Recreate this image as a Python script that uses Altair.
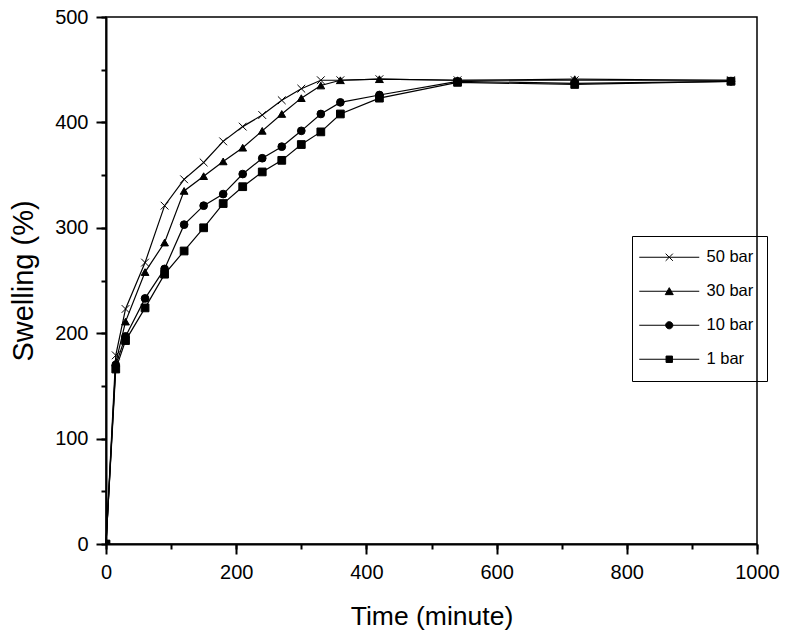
import altair as alt
import pandas as pd

times = [0, 15, 30, 60, 90, 120, 150, 180, 210, 240, 270, 300, 330, 360, 420, 540, 720, 960]
series_names = ["50 bar", "30 bar", "10 bar", "1 bar"]
bar50 = [0, 179, 223, 267, 321, 346, 362, 382, 396, 407, 421, 432, 440, 440, 441, 440, 440, 440]
bar30 = [0, 172, 211, 258, 286, 335, 349, 363, 376, 392, 408, 423, 435, 440, 441, 440, 441, 440]
bar10 = [0, 170, 197, 233, 261, 303, 321, 332, 351, 366, 377, 392, 408, 419, 426, 439, 437, 439]
bar1 = [0, 166, 193, 224, 256, 278, 300, 323, 339, 353, 364, 379, 391, 408, 423, 438, 436, 439]

x_major = list(range(0, 1001, 200))
x_minor = list(range(0, 1001, 100))
y_major = list(range(0, 501, 100))
y_minor = list(range(0, 501, 50))

rows = []
for name, vals in zip(series_names, [bar50, bar30, bar10, bar1]):
    for t, v in zip(times, vals):
        rows.append({"time": t, "swelling": v, "series": name, "legend": name})
df = pd.DataFrame(rows)

FONT = "Liberation Sans"

# plot markers (shape scale domain listed in reverse so it is not merged with the legend scale)
shape_domain = ["1 bar", "10 bar", "30 bar", "50 bar"]
shape_range = ["square", "circle", "triangle-up", "M-1,-1L1,1M-1,1L1,-1"]

legend_paths = {
    "50 bar": "M-7.5,0L7.5,0M-0.9,-0.9L0.9,0.9M-0.9,0.9L0.9,-0.9",
    "30 bar": "M-7.5,0L7.5,0M-1,0.85L0,-0.9L1,0.85Z",
    "10 bar": "M-7.5,0L7.5,0M-0.9,0A0.9,0.9 0 1,0 0.9,0A0.9,0.9 0 1,0 -0.9,0Z",
    "1 bar": "M-7.5,0L7.5,0M-0.8,-0.8L0.8,-0.8L0.8,0.8L-0.8,0.8Z",
}
shape_expr = ""
for name in series_names[:-1]:
    shape_expr += f"datum.value === '{name}' ? '{legend_paths[name]}' : "
shape_expr += f"'{legend_paths[series_names[-1]]}'"

x_scale = alt.Scale(domain=[0, 1000], nice=False, zero=True)
y_scale = alt.Scale(domain=[0, 500], nice=False)

lines = alt.Chart(df).mark_line(color="black", strokeWidth=1.2).encode(
    x=alt.X(
        "time:Q",
        scale=x_scale,
        axis=alt.Axis(
            title="Time (minute)",
            orient="bottom",
            values=x_major,
            format="d",
            tickSize=10,
            labelFlush=False,
            labelOverlap=False,
            labelPadding=8,
            titlePadding=21,
            titleFontSize=26.5,
        ),
    ),
    y=alt.Y(
        "swelling:Q",
        scale=y_scale,
        axis=alt.Axis(
            title="Swelling (%)",
            orient="left",
            values=y_major,
            format="d",
            tickSize=10,
            labelFlush=False,
            labelOverlap=False,
            labelPadding=8,
            titlePadding=16,
            titleFontSize=29,
        ),
    ),
    detail="series:N",
)

points = alt.Chart(df).mark_point(
    filled=True, stroke="black", strokeWidth=1, opacity=1, size=60, clip=True
).encode(
    x=alt.X(
        "time:Q",
        scale=x_scale,
        axis=alt.Axis(
            title=None, orient="bottom", values=x_minor, tickSize=5,
            labels=False, domain=False,
        ),
    ),
    y=alt.Y(
        "swelling:Q",
        scale=y_scale,
        axis=alt.Axis(
            title=None, orient="left", values=y_minor, tickSize=5,
            labels=False, domain=False,
        ),
    ),
    shape=alt.Shape(
        "series:N",
        scale=alt.Scale(domain=shape_domain, range=shape_range),
        legend=None,
    ),
    color=alt.Color(
        "legend:N",
        scale=alt.Scale(domain=series_names, range=["black"] * 4),
        legend=alt.Legend(
            title=None,
            orient="none",
            legendX=526,
            legendY=219,
            strokeColor="black",
            padding=13,
            rowPadding=17,
            symbolSize=64,
            symbolOffset=16,
            labelOffset=29,
            symbolType={"expr": shape_expr},
            symbolStrokeWidth=1,
            labelFont=FONT,
            labelFontSize=16.5,
            labelColor="black",
        ),
    ),
)

chart = (
    alt.layer(lines, points)
    .resolve_axis(x="independent", y="independent")
    .properties(
        width=651,
        height=527,
        autosize=alt.AutoSizeParams(type="none"),
        padding={"left": 98, "top": 9, "right": 23, "bottom": 95},
    )
    .configure_view(stroke="black", strokeWidth=1.5)
    .configure_axis(
        grid=False,
        domainColor="black",
        domainWidth=2,
        tickColor="black",
        tickWidth=2,
        labelFont=FONT,
        labelFontSize=20,
        labelColor="black",
        titleFont=FONT,
        titleFontWeight="normal",
        titleColor="black",
    )
)

chart.save("out.html", embed_options={"renderer": "svg", "actions": False})
